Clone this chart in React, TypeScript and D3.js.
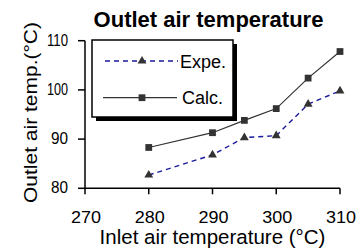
import React from 'react';
import * as d3 from 'd3';

const inletTemps = [280, 290, 295, 300, 305, 310];
const expeValues = [82.7, 86.8, 90.3, 90.7, 97.1, 99.8];
const calcValues = [88.3, 91.3, 93.8, 96.2, 102.4, 107.8];
const xTicks = [270, 280, 290, 300, 310];
const yTicks = [80, 90, 100, 110];

const W = 356;
const H = 250;
const font = 'Arial, "Liberation Sans", sans-serif';
const navy = '#1a1a9c';
const ink = '#333';

export default function App() {
  const x = d3.scaleLinear().domain([270, 310]).range([85, 340]);
  const y = d3.scaleLinear().domain([80, 110]).range([188.3, 40.7]);

  const line = d3.line<number>()
    .x((_, i) => x(inletTemps[i]))
    .y(d => y(d));

  const tri = d3.symbol().type(d3.symbolTriangle).size(34)() || '';
  const sq = d3.symbol().type(d3.symbolSquare).size(46)() || '';

  const lg = { x: 92, y: 40, w: 141, h: 77 };

  return (
    <svg width={W} height={H} style={{ position: 'absolute', left: 0, top: 0, background: '#fff' }}>
      <text x={208.5} y={27} textAnchor="middle" fontFamily={font} fontWeight="bold" fontSize={22}>
        Outlet air temperature
      </text>

      {/* y axis */}
      <line x1={x(270)} x2={x(270)} y1={y(110)} y2={y(80)} stroke="#000" strokeWidth={1.5} />
      {yTicks.map(t => (
        <g key={t}>
          <line x1={x(270) - 7} x2={x(270)} y1={y(t)} y2={y(t)} stroke="#000" strokeWidth={1.5} />
          <text x={68} y={y(t) + 5} textAnchor="end" fontFamily={font} fontSize={17}
            textLength={String(t).length === 3 ? 21 : 17} lengthAdjust="spacingAndGlyphs">{t}</text>
        </g>
      ))}

      {/* x axis */}
      <line x1={x(270)} x2={x(310)} y1={y(80)} y2={y(80)} stroke="#000" strokeWidth={1.5} />
      {xTicks.map(t => (
        <g key={t}>
          <line x1={x(t)} x2={x(t)} y1={y(80)} y2={y(80) + 6} stroke="#000" strokeWidth={1.5} />
          <text x={x(t) + 1} y={222.5} textAnchor="middle" fontFamily={font} fontSize={17}
            textLength={30} lengthAdjust="spacingAndGlyphs">{t}</text>
        </g>
      ))}

      <text x={212.5} y={244} textAnchor="middle" fontFamily={font} fontSize={20.5}>
        Inlet air temperature (°C)
      </text>
      <text transform="translate(37,112.5) rotate(-90)" textAnchor="middle" fontFamily={font} fontSize={19}
        textLength={181} lengthAdjust="spacingAndGlyphs">
        Outlet air temp.(°C)
      </text>

      {/* series */}
      <path d={line(calcValues) || ''} fill="none" stroke={ink} strokeWidth={1.2} />
      <path d={line(expeValues) || ''} fill="none" stroke={navy} strokeWidth={1.4} strokeDasharray="5,4" />
      {calcValues.map((v, i) => (
        <path key={'c' + i} d={sq} transform={`translate(${x(inletTemps[i])},${y(v)})`} fill={ink} />
      ))}
      {expeValues.map((v, i) => (
        <path key={'e' + i} d={tri} transform={`translate(${x(inletTemps[i])},${y(v)})`} fill={ink} />
      ))}

      {/* legend */}
      <rect x={lg.x + 4} y={lg.y + 4} width={lg.w} height={lg.h} fill="#000" />
      <rect x={lg.x} y={lg.y} width={lg.w} height={lg.h} fill="#fff" stroke="#000" strokeWidth={1.5} />
      <line x1={105} x2={178} y1={61} y2={61} stroke={navy} strokeWidth={1.4} strokeDasharray="5,4" />
      <path d={tri} transform="translate(142,61)" fill={ink} />
      <text x={180} y={67.5} fontFamily={font} fontSize={18}>Expe.</text>
      <line x1={103} x2={177} y1={97.7} y2={97.7} stroke={ink} strokeWidth={1.2} />
      <path d={sq} transform="translate(142,97.7)" fill={ink} />
      <text x={182} y={104} fontFamily={font} fontSize={18}>Calc.</text>
    </svg>
  );
}
